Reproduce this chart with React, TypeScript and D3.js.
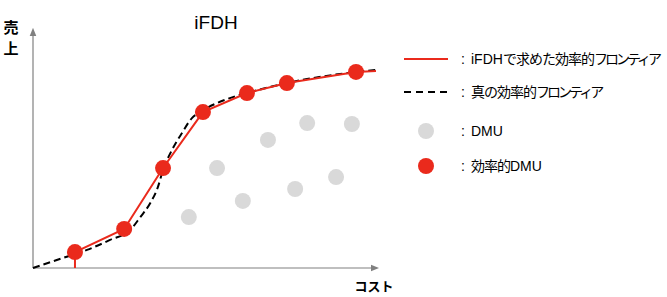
import React from "react";
import * as d3 from "d3";

const W = 667;
const H = 297;

// DMU data (cost, sales)
const dmuCost = [4.53, 5.35, 6.1, 6.83, 7.62, 7.97, 8.81, 9.27];
const dmuSales = [2.14, 4.2, 2.82, 5.38, 3.32, 6.09, 3.82, 6.05];

// efficient DMUs (iFDH frontier)
const effCost = [1.22, 2.65, 3.78, 4.94, 6.22, 7.38, 9.39];
const effSales = [0.67, 1.64, 4.2, 6.55, 7.35, 7.77, 8.24];

// true efficient frontier
const trueCost = [0, 0.87, 1.57, 2.24, 2.83, 3.12, 3.41, 3.63, 3.78, 4.04, 4.33, 4.62, 4.85, 5.35, 5.81, 6.31, 7.38, 9.42, 9.97];
const trueSales = [0, 0.42, 0.76, 1.18, 1.6, 2.14, 2.73, 3.4, 4.12, 4.96, 5.67, 6.3, 6.55, 6.93, 7.18, 7.39, 7.77, 8.24, 8.32];

const title = "iFDH";
const yLabel = ["売", "上"];
const xLabel = "コスト";
const legendItems = [
  { kind: "line", label: "iFDHで求めた効率的フロンティア" },
  { kind: "dash", label: "真の効率的フロンティア" },
  { kind: "gray", label: "DMU" },
  { kind: "red", label: "効率的DMU" },
];

const RED = "#ea2a1c";
const GRAY = "#d9d9d9";
const AXIS = "#808080";
const FONT = "'Liberation Sans', 'Noto Sans CJK JP', sans-serif";

function runs(s: string) {
  const out: { t: string; ls: number }[] = [];
  const re = /[A-Za-z]+|[\u30A0-\u30FF]+|[^A-Za-z\u30A0-\u30FF]+/g;
  let m: RegExpExecArray | null;
  while ((m = re.exec(s))) {
    const t = m[0];
    let ls = 0;
    if (/^[\u30A0-\u30FF]/.test(t)) ls = -3;
    else if (!/^[A-Za-z]/.test(t)) ls = -1;
    out.push({ t, ls });
  }
  return out;
}

export default function App() {
  const x = d3.scaleLinear().domain([0, 10]).range([33, 377]);
  const y = d3.scaleLinear().domain([0, 10]).range([268, 30]);

  const frontierX = [effCost[0], ...effCost, 9.97];
  const frontierY = [0, ...effSales, 8.28];
  const redLine = d3
    .line<number>()
    .x((_, i) => x(frontierX[i]))
    .y((_, i) => y(frontierY[i]))(frontierX);

  const trueLine = d3
    .line<number>()
    .curve(d3.curveMonotoneX)
    .x((_, i) => x(trueCost[i]))
    .y((_, i) => y(trueSales[i]))(trueCost);

  const legendX = 404;
  const legendYs = [59, 92, 131, 166];

  return (
    <svg width={W} height={H} style={{ position: "absolute", left: 0, top: 0 }} fontFamily={FONT}>
      <defs>
        <marker id="arr" viewBox="0 0 10 10" refX="5" refY="5" markerWidth="7" markerHeight="7" orient="auto">
          <path d="M0,1 L10,5 L0,9 z" fill={AXIS} />
        </marker>
      </defs>
      <rect width={W} height={H} fill="#fff" />
      {/* axes */}
      <line x1={x(0)} y1={y(0)} x2={x(0)} y2={y(10) + 2} stroke={AXIS} strokeWidth={1.2} markerEnd="url(#arr)" />
      <line x1={x(0)} y1={y(0)} x2={x(10) - 2} y2={y(0)} stroke={AXIS} strokeWidth={1.2} markerEnd="url(#arr)" />

      {/* gray DMUs */}
      {dmuCost.map((c, i) => (
        <circle key={"g" + i} cx={x(c)} cy={y(dmuSales[i])} r={8} fill={GRAY} />
      ))}

      {/* true frontier */}
      <path d={trueLine || ""} fill="none" stroke="#000" strokeWidth={2} strokeDasharray="7 4" />
      {/* iFDH frontier */}
      <path d={redLine || ""} fill="none" stroke={RED} strokeWidth={2} />

      {effCost.map((c, i) => (
        <circle key={"r" + i} cx={x(c)} cy={y(effSales[i])} r={8} fill={RED} />
      ))}

      {/* titles */}
      <text x={216} y={29} textAnchor="middle" fontSize={19} fill="#000">
        {title}
      </text>
      {yLabel.map((t, i) => (
        <text key={t} x={11} y={33 + i * 21} textAnchor="middle" fontSize={15} fontWeight="bold" fill="#000">
          {t}
        </text>
      ))}
      <text x={374} y={291} textAnchor="middle" fontSize={13} fontWeight="bold" fill="#000">
        {xLabel}
      </text>

      {/* legend */}
      {legendItems.map((it, i) => {
        const ly = legendYs[i];
        return (
          <g key={it.label}>
            {it.kind === "line" && <line x1={legendX} x2={legendX + 44} y1={ly} y2={ly} stroke={RED} strokeWidth={2} />}
            {it.kind === "dash" && (
              <line x1={legendX} x2={legendX + 44} y1={ly} y2={ly} stroke="#000" strokeWidth={2} strokeDasharray="7 5" />
            )}
            {it.kind === "gray" && <circle cx={legendX + 22} cy={ly} r={8} fill={GRAY} />}
            {it.kind === "red" && <circle cx={legendX + 22} cy={ly} r={8} fill={RED} />}
            <text x={461} y={ly + 5} fontSize={14} fill="#000">
              :
            </text>
            <text x={471} y={ly + 5} fontSize={14} fill="#000">
              {runs(it.label).map((r, j) => (
                <tspan key={j} letterSpacing={r.ls}>
                  {r.t}
                </tspan>
              ))}
            </text>
          </g>
        );
      })}
    </svg>
  );
}
